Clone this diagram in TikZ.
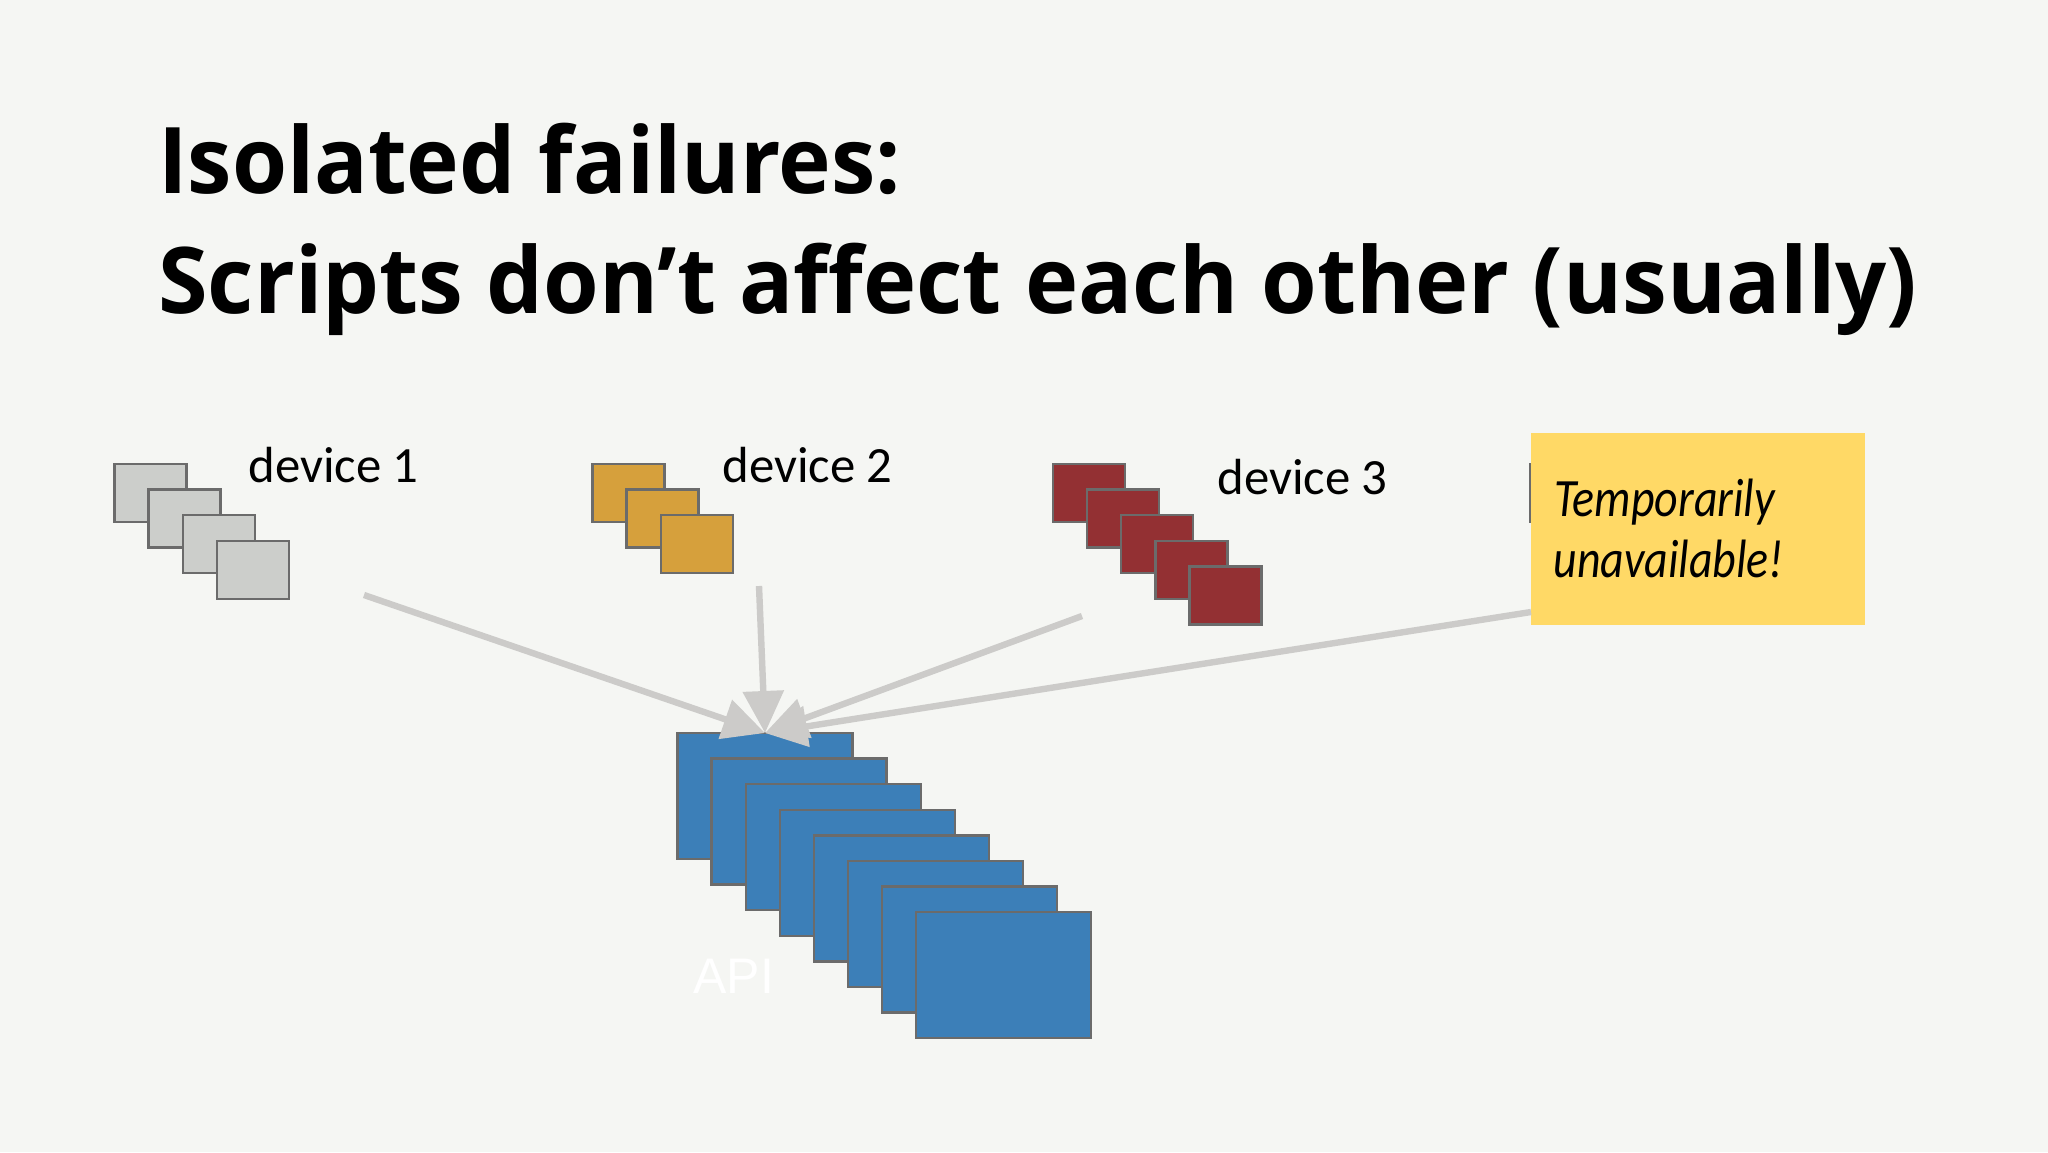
\documentclass[tikz,border=0pt]{standalone}
\usepackage{fontspec}
\usetikzlibrary{arrows.meta}
\setmainfont{Carlito}
\newfontfamily\titlefont{Open Sans}
\newfontfamily\apifont{Liberation Sans}
\definecolor{bgc}{HTML}{F5F6F3}
\definecolor{edgec}{HTML}{6B6B6B}
\definecolor{grayc}{HTML}{CCCECB}
\definecolor{orangec}{HTML}{D6A03C}
\definecolor{redc}{HTML}{933033}
\definecolor{bluec}{HTML}{3C7FB8}
\definecolor{yellowc}{HTML}{FFD966}
\definecolor{arrowc}{HTML}{CCCBC9}
\tikzset{
  x=0.5pt,y=-0.5pt,
  card/.style={draw=edgec,line width=1.2pt,inner sep=0,outer sep=0,anchor=north west,minimum width=36pt,minimum height=29pt},
  apicard/.style={draw=edgec,line width=1.2pt,inner sep=0,outer sep=0,anchor=north west,minimum width=87.5pt,minimum height=63pt,fill=bluec},
  lbl/.style={anchor=base west,inner sep=0,font=\fontsize{25.4}{25.4}\selectfont,text=black},
  ttl/.style={anchor=base west,inner sep=0,font=\titlefont\bfseries\fontsize{46}{46}\selectfont,text=black},
  note/.style={anchor=base west,inner sep=0,font=\fontsize{27}{27}\selectfont\itshape,text=black},
  feed/.style={draw=arrowc,line width=3.2pt,-{Triangle[length=21pt,width=20pt]},shorten >=0pt}
}
\begin{document}
\begin{tikzpicture}
\useasboundingbox[fill=bgc] (0,0) rectangle (2048,1152);
\node[ttl] (t1) at (158,193) {\scalebox{0.968}[1]{Isolated failures:}};
\node[ttl] (t2) at (158,313) {\scalebox{0.978}[1]{Scripts don’t affect each other (usually)}};
% device stacks
\foreach \i in {0,...,3}
  \node[card,fill=grayc] (g\i) at ({114.5+34.1*\i},{464+25.6*\i}) {};
\foreach \i in {0,...,2}
  \node[card,fill=orangec] (o\i) at ({592.5+34.1*\i},{464+25.6*\i}) {};
\foreach \i in {0,...,4}
  \node[card,fill=redc] (r\i) at ({1053+34.1*\i},{464+25.6*\i}) {};
\node[card,fill=grayc] (h0) at (1530,464) {};
\foreach \i in {0,...,7}
  \node[apicard] (b\i) at ({677.5+34.1*\i},{733+25.6*\i}) {};
\node[lbl] (d1) at (248,482) {device 1};
\node[lbl] (d2) at (722,482) {device 2};
\node[lbl] (d3) at (1217,494) {device 3};
\node[anchor=base west,inner sep=0,font=\apifont\fontsize{25}{25}\selectfont,text=white] (api) at (693,993) {API};
% connector ends
\coordinate (s1) at (364,595);
\coordinate (s2) at (759,586);
\coordinate (s3) at (1082,616);
\coordinate (tip) at (765,733);
\node[fill=yellowc,inner sep=0,outer sep=0,anchor=north west,minimum width=167pt,minimum height=96pt] (y) at (1531,433) {};
\coordinate (s4) at (y.west|-0,612);
\draw[feed] (s1) -- (tip);
\draw[feed] (s2) -- (tip);
\draw[feed] (s3) -- (tip);
\draw[feed] (s4) -- (tip);
\node[note] (n1) at (1554,516) {\scalebox{0.85}[1]{Temporarily}};
\node[note] (n2) at (1553,577) {\scalebox{0.85}[1]{unavailable!}};
\end{tikzpicture}
\end{document}
